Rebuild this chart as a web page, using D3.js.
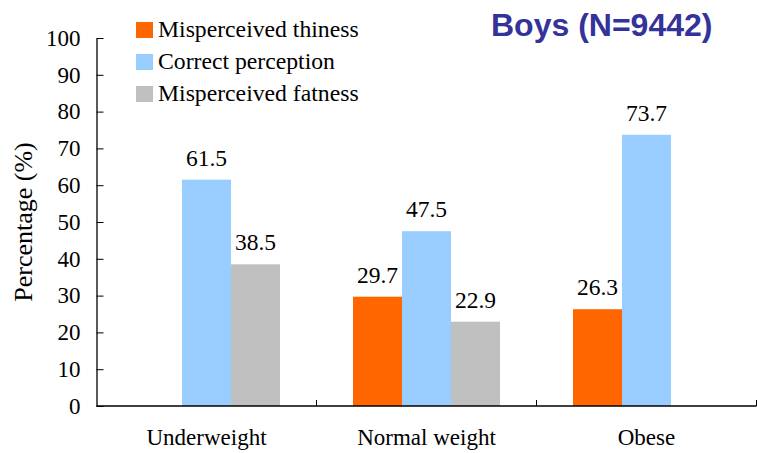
<!DOCTYPE html>
<html><head><meta charset="utf-8">
<script src="https://cdn.jsdelivr.net/npm/d3@7"></script>
<style>body{margin:0;background:#fff}svg{display:block}</style>
</head><body>
<svg id="c" width="757" height="453"></svg>
<script>
const categories = ["Underweight", "Normal weight", "Obese"];
const seriesNames = ["Misperceived thiness", "Correct perception", "Misperceived fatness"];
const misperceivedThiness = [null, 29.7, 26.3];
const correctPerception = [61.5, 47.5, 73.7];
const misperceivedFatness = [38.5, 22.9, null];
const yTicks = [0, 10, 20, 30, 40, 50, 60, 70, 80, 90, 100];
const colors = ["#FF6600", "#99CCFF", "#C0C0C0"];
const title = "Boys (N=9442)";
const yTitle = "Percentage (%)";

(function () {
const series = [misperceivedThiness, correctPerception, misperceivedFatness];
const svg = d3.select("#c");
const L = 96.5, R = 756.5, T = 38, B = 406;

function fam(c) { return ["serif", "sans-serif", "monospace"].includes(c) ? c : `"${c}"`; }
function pick(cands, sample, target, weight) {
  const t = svg.append("text").style("font-size", "100px").style("font-weight", weight).text(sample);
  let best = fam(cands[0]), bd = Infinity;
  cands.forEach(c => {
    t.style("font-family", fam(c));
    const d = Math.abs(t.node().getComputedTextLength() - target);
    if (d < bd) { bd = d; best = fam(c); }
  });
  t.remove();
  return best;
}
const serifC = ["Liberation Serif", "Times New Roman", "Tinos", "Times", "Nimbus Roman", "FreeSerif", "serif", "sans-serif", "DejaVu Serif", "Noto Serif", "Georgia"];
const sansC = ["Liberation Sans", "Arial", "Arimo", "Helvetica", "Nimbus Sans", "sans-serif", "serif", "FreeSans"];
const SERIF = pick(serifC, "Underweight", 522.1, "normal");
const SANS = pick(sansC, "Boys (N=9442)", 691.9, "bold");

const x = d3.scaleBand().domain(categories).range([L, R]).paddingInner(0).paddingOuter(0);
const xi = d3.scaleBand().domain(d3.range(3)).range([0, 147]);
const y = d3.scaleLinear().domain([0, 100]).range([B, T]);

// bars
categories.forEach((c, ci) => {
  const g = svg.append("g").attr("transform", `translate(${x(c) + (x.bandwidth() - 147) / 2},0)`);
  series.forEach((s, si) => {
    const v = s[ci];
    if (v == null) return;
    g.append("rect").attr("x", xi(si)).attr("width", xi.bandwidth())
      .attr("y", y(v)).attr("height", y(0) - y(v)).attr("fill", colors[si]);
    g.append("text").attr("x", xi(si) + xi.bandwidth() / 2).attr("y", y(v) - 14)
      .attr("text-anchor", "middle").style("font-family", SERIF).style("font-size", "23.5px")
      .attr("fill", "#000").text(v.toFixed(1));
  });
});

// y axis
const yAxis = d3.axisLeft(y).tickValues(yTicks).tickSizeInner(-7).tickSizeOuter(0).tickPadding(16);
const ya = svg.append("g").attr("transform", `translate(${L},0)`).call(yAxis);
ya.select(".domain").attr("stroke", "#000").attr("stroke-width", 1.3);
ya.selectAll(".tick line").attr("stroke", "#000");
ya.selectAll(".tick text").style("font-family", SERIF).style("font-size", "23px").attr("fill", "#000");

// x axis
svg.append("line").attr("x1", L).attr("x2", R).attr("y1", B).attr("y2", B)
  .attr("stroke", "#000").attr("stroke-width", 1.5);
categories.forEach(c => {
  svg.append("line").attr("x1", x(c) + x.bandwidth()).attr("x2", x(c) + x.bandwidth())
    .attr("y1", B).attr("y2", B - 6).attr("stroke", "#000");
  svg.append("text").attr("x", x(c) + x.bandwidth() / 2).attr("y", 445)
    .attr("text-anchor", "middle").style("font-family", SERIF).style("font-size", "23px")
    .attr("fill", "#000").text(c);
});

// y title
svg.append("text").attr("transform", `translate(32,${(T + B) / 2}) rotate(-90)`)
  .attr("text-anchor", "middle").style("font-family", SERIF).style("font-size", "26px")
  .attr("fill", "#000").text(yTitle);

// legend
seriesNames.forEach((n, i) => {
  svg.append("rect").attr("x", 136).attr("y", 22 + i * 32).attr("width", 17).attr("height", 16).attr("fill", colors[i]);
  svg.append("text").attr("x", 158).attr("y", 37 + i * 32)
    .style("font-family", SERIF).style("font-size", "23.7px").attr("fill", "#000").text(n);
});

// title
svg.append("text").attr("x", 491).attr("y", 36).style("font-family", SANS)
  .style("font-weight", "bold").style("font-size", "32px").attr("fill", "#333399").text(title);
})();
</script>
</body></html>
